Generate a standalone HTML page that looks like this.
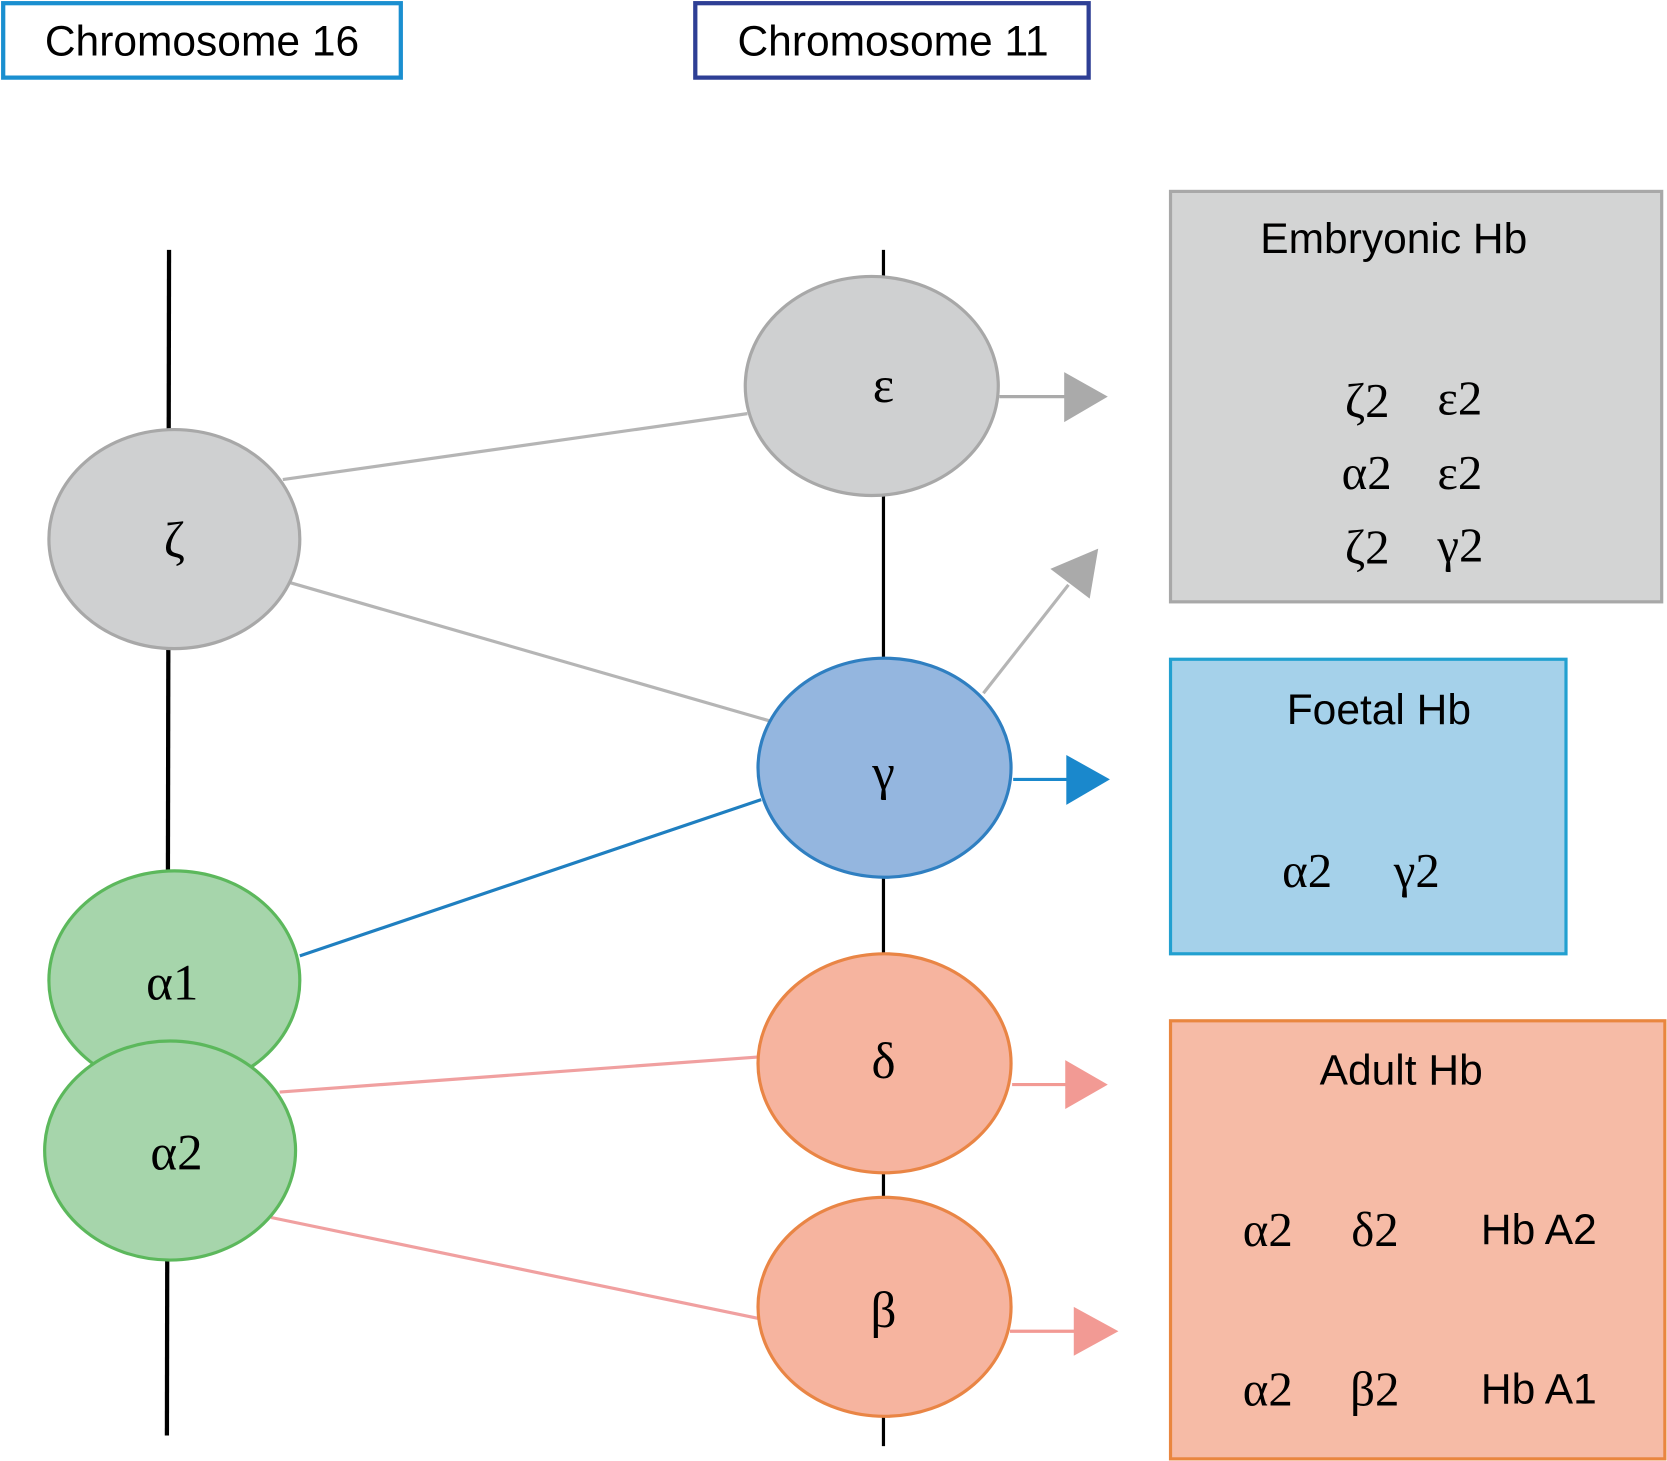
<!DOCTYPE html>
<html><head><meta charset="utf-8"><style>
html,body{margin:0;padding:0;background:#fff;}
svg{display:block;}
.s{font-family:"Liberation Sans",sans-serif;}
.g{font-family:"Liberation Serif","DejaVu Serif",serif;}
</style></head><body>
<svg width="1667" height="1461" viewBox="0 0 1568 1374" preserveAspectRatio="none" xmlns="http://www.w3.org/2000/svg">
<!-- headers -->
<rect x="3" y="3" width="374" height="70" fill="#fff" stroke="#1a8fd0" stroke-width="4"/>
<text x="190" y="52" class="s" font-size="40" text-anchor="middle">Chromosome 16</text>
<rect x="654" y="3" width="370" height="70" fill="#fff" stroke="#2e3f95" stroke-width="4"/>
<text x="840" y="52" class="s" font-size="40" text-anchor="middle">Chromosome 11</text>
<!-- chromosome lines -->
<line x1="159" y1="235" x2="157" y2="1350" stroke="#000" stroke-width="4"/>
<line x1="831" y1="235" x2="831" y2="1360" stroke="#000" stroke-width="3"/>
<!-- connectors -->
<g stroke-width="3">
<line x1="266" y1="451" x2="703" y2="389" stroke="#b5b5b5"/>
<line x1="273" y1="548" x2="724" y2="678" stroke="#b5b5b5"/>
<line x1="282" y1="899" x2="716" y2="752" stroke="#1f7fc0"/>
<line x1="263" y1="1027" x2="714" y2="994" stroke="#f0a0a0"/>
<line x1="255" y1="1145" x2="714" y2="1240" stroke="#f0a0a0"/>
<line x1="940" y1="373" x2="1002" y2="373" stroke="#aaa"/>
<line x1="925" y1="652" x2="1005" y2="550" stroke="#b5b5b5"/>
<line x1="953" y1="733" x2="1004" y2="733" stroke="#1a88cc"/>
<line x1="952" y1="1020" x2="1004" y2="1020" stroke="#f29a94"/>
<line x1="950" y1="1252" x2="1011" y2="1252" stroke="#f29a94"/>
</g>
<polygon points="1001,350 1042,373 1001,397" fill="#aaaaaa"/>
<polygon points="1033,516 1025,563 988,535" fill="#aaaaaa"/>
<polygon points="1003,710 1044,733 1003,757" fill="#1a88cc"/>
<polygon points="1002,997 1042,1020 1002,1043" fill="#f29a94"/>
<polygon points="1010,1229 1052,1252 1010,1275" fill="#f29a94"/>
<!-- ellipses -->
<g stroke-width="3">
<ellipse cx="164" cy="507" rx="118" ry="103" fill="#cfd0d1" stroke="#a8a8a8"/>
<ellipse cx="164" cy="922" rx="118" ry="103" fill="#a6d5ab" stroke="#5cb85c"/>
<ellipse cx="160" cy="1082" rx="118" ry="103" fill="#a6d5ab" stroke="#5cb85c"/>
<ellipse cx="820" cy="363" rx="119" ry="103" fill="#cfd0d1" stroke="#a8a8a8"/>
<ellipse cx="832" cy="722" rx="119" ry="103" fill="#94b6df" stroke="#2f7fc1"/>
<ellipse cx="832" cy="1000" rx="119" ry="103" fill="#f6b49f" stroke="#e98545"/>
<ellipse cx="832" cy="1229" rx="119" ry="103" fill="#f6b49f" stroke="#e98545"/>
</g>
<g class="g" font-size="48" text-anchor="middle">
<text x="164" y="524">ζ</text>
<text x="162" y="940">α1</text>
<text x="166" y="1100">α2</text>
<text x="831" y="378">ε</text>
<text x="831" y="742">γ</text>
<text x="831" y="1014">δ</text>
<text x="831" y="1248">β</text>
</g>
<!-- boxes -->
<rect x="1101" y="180" width="462" height="386" fill="#d3d4d4" stroke="#a8a8a8" stroke-width="3"/>
<text x="1311" y="238" class="s" font-size="40" text-anchor="middle">Embryonic Hb</text>
<g class="g" font-size="46">
<text x="1265" y="392">ζ2</text><text x="1352" y="390">ε2</text>
<text x="1262" y="460">α2</text><text x="1352" y="460">ε2</text>
<text x="1265" y="530">ζ2</text><text x="1352" y="528">γ2</text>
</g>
<rect x="1101" y="620" width="372" height="277" fill="#a5d1ea" stroke="#22a0d0" stroke-width="3"/>
<text x="1297" y="681" class="s" font-size="40" text-anchor="middle">Foetal Hb</text>
<g class="g" font-size="46"><text x="1206" y="834">α2</text><text x="1311" y="834">γ2</text></g>
<rect x="1101" y="960" width="465" height="412" fill="#f6bba6" stroke="#e9863f" stroke-width="3"/>
<text x="1318" y="1020" class="s" font-size="40" text-anchor="middle">Adult Hb</text>
<g class="g" font-size="46">
<text x="1169" y="1172">α2</text><text x="1271" y="1172">δ2</text>
<text x="1169" y="1322">α2</text><text x="1270" y="1322">β2</text>
</g>
<g class="s" font-size="40">
<text x="1393" y="1170">Hb A2</text>
<text x="1393" y="1320">Hb A1</text>
</g>
</svg>
</body></html>
